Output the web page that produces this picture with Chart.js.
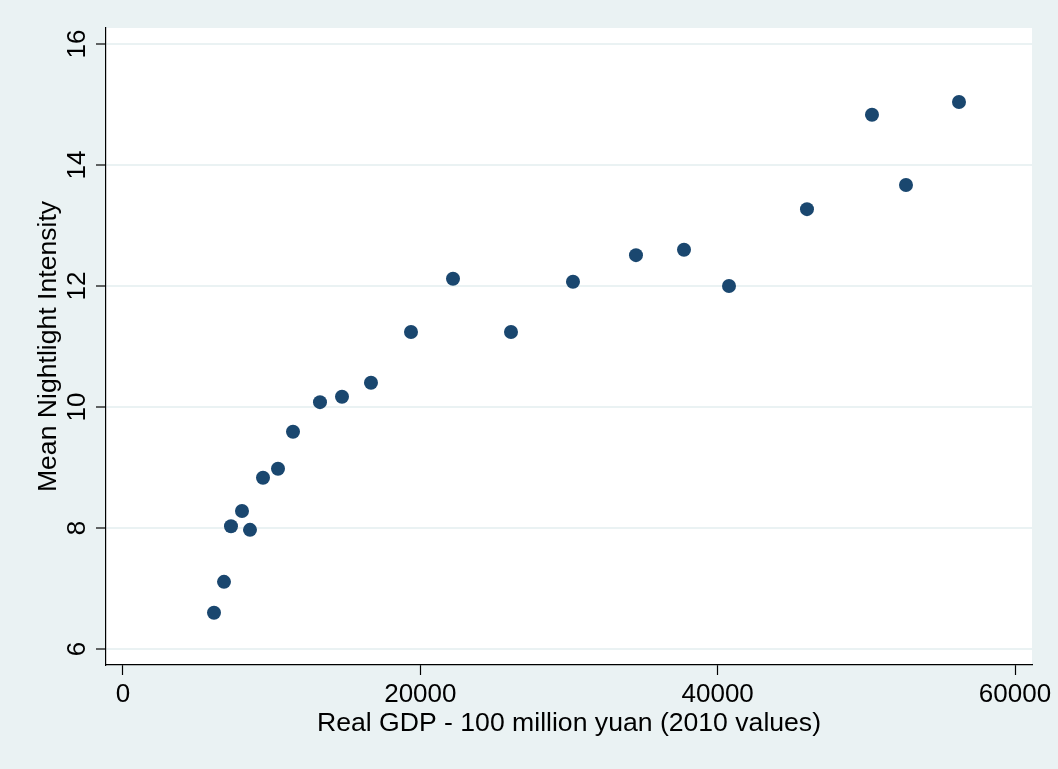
<!DOCTYPE html>
<html>
<head>
<meta charset="utf-8">
<script src="https://cdn.jsdelivr.net/npm/chart.js@4"></script>
<style>
  html, body { margin: 0; padding: 0; background: #eaf2f3; }
  canvas { display: block; }
</style>
</head>
<body>
<canvas id="myChart" width="1058" height="769"></canvas>
<script>
// real GDP (100 million yuan, 2010 values) and mean nightlight intensity
const gdpValues = [6121, 6794, 7264, 8004, 8542, 9417, 10426, 11435, 13251, 14731, 16681,
                   19372, 22197, 26098, 30268, 34506, 37735, 40762, 46008, 50380, 52667, 56232];
const nightlight = [6.60, 7.11, 8.03, 8.28, 7.97, 8.83, 8.98, 9.59, 10.08, 10.17, 10.40,
                    11.24, 12.12, 11.24, 12.07, 12.51, 12.60, 12.00, 13.27, 14.83, 13.67, 15.04];
const xTicks = [0, 20000, 40000, 60000];
const yTicks = [6, 8, 10, 12, 14, 16];
const xTitle = 'Real GDP - 100 million yuan (2010 values)';
const yTitle = 'Mean Nightlight Intensity';

const TICK_FONT = '26px "Liberation Sans", Arial, sans-serif';
const TITLE_FONT = '26.6px "Liberation Sans", Arial, sans-serif';

// backgrounds: grey page, white plot region
const backgroundPlugin = {
    id: 'backgrounds',
    beforeDraw(chart) {
        const { ctx, chartArea: a } = chart;
        ctx.save();
        ctx.fillStyle = '#eaf2f3';
        ctx.fillRect(0, 0, chart.width, chart.height);
        ctx.fillStyle = '#ffffff';
        ctx.fillRect(a.left, a.top, a.right - a.left, a.bottom - a.top);
        ctx.restore();
    }
};

// tick labels and titles in Stata style (y labels rotated)
const textPlugin = {
    id: 'stataText',
    afterDraw(chart) {
        const { ctx, chartArea: a } = chart;
        const xs = chart.scales.x, ys = chart.scales.y;
        ctx.save();
        ctx.fillStyle = '#000000';
        ctx.textAlign = 'center';
        ctx.textBaseline = 'alphabetic';

        ctx.font = TICK_FONT;
        xTicks.forEach(v => {
            ctx.fillText(String(v), xs.getPixelForValue(v), a.bottom + 37);
        });
        yTicks.forEach(v => {
            ctx.save();
            ctx.translate(a.left - 21, ys.getPixelForValue(v));
            ctx.rotate(-Math.PI / 2);
            ctx.fillText(String(v), 0, 0);
            ctx.restore();
        });

        ctx.font = TITLE_FONT;
        ctx.fillText(xTitle, (a.left + a.right) / 2, a.bottom + 66);
        ctx.save();
        ctx.translate(a.left - 50, (a.top + a.bottom) / 2);
        ctx.rotate(-Math.PI / 2);
        ctx.fillText(yTitle, 0, 0);
        ctx.restore();

        ctx.restore();
    }
};

let myChart;

function initChart() {
    const ctx = document.getElementById('myChart').getContext('2d');
    myChart = new Chart(ctx, {
        type: 'scatter',
        data: {
            datasets: [{
                label: 'Nightlight',
                data: gdpValues.map((g, i) => ({ x: g, y: nightlight[i] })),
                backgroundColor: '#1a476f',
                borderWidth: 0,
                pointRadius: 7,
                pointHoverRadius: 7
            }]
        },
        options: {
            responsive: false,
            animation: false,
            layout: { padding: { left: 0, right: 26, top: 28, bottom: 0 } },
            plugins: {
                legend: { display: false },
                tooltip: { enabled: false }
            },
            scales: {
                x: {
                    type: 'linear',
                    min: -1143,
                    max: 61143,
                    afterBuildTicks: s => { s.ticks = xTicks.map(v => ({ value: v })); },
                    afterFit: s => { s.height = 104; },
                    ticks: { display: false },
                    grid: {
                        drawOnChartArea: false,
                        drawTicks: true,
                        tickLength: 10,
                        tickColor: '#000000',
                        tickWidth: 1.2
                    },
                    border: { display: true, color: '#000000', width: 1.2 }
                },
                y: {
                    type: 'linear',
                    min: 5.736,
                    max: 16.264,
                    afterBuildTicks: s => { s.ticks = yTicks.map(v => ({ value: v })); },
                    afterFit: s => { s.width = 106; },
                    ticks: { display: false },
                    grid: {
                        color: '#eaf2f3',
                        lineWidth: 2,
                        drawTicks: true,
                        tickLength: 10,
                        tickColor: '#000000',
                        tickWidth: 1.2
                    },
                    border: { display: true, color: '#000000', width: 1.2 }
                }
            }
        },
        plugins: [backgroundPlugin, textPlugin]
    });
}

document.addEventListener('DOMContentLoaded', () => {
    initChart();
});
</script>
</body>
</html>
